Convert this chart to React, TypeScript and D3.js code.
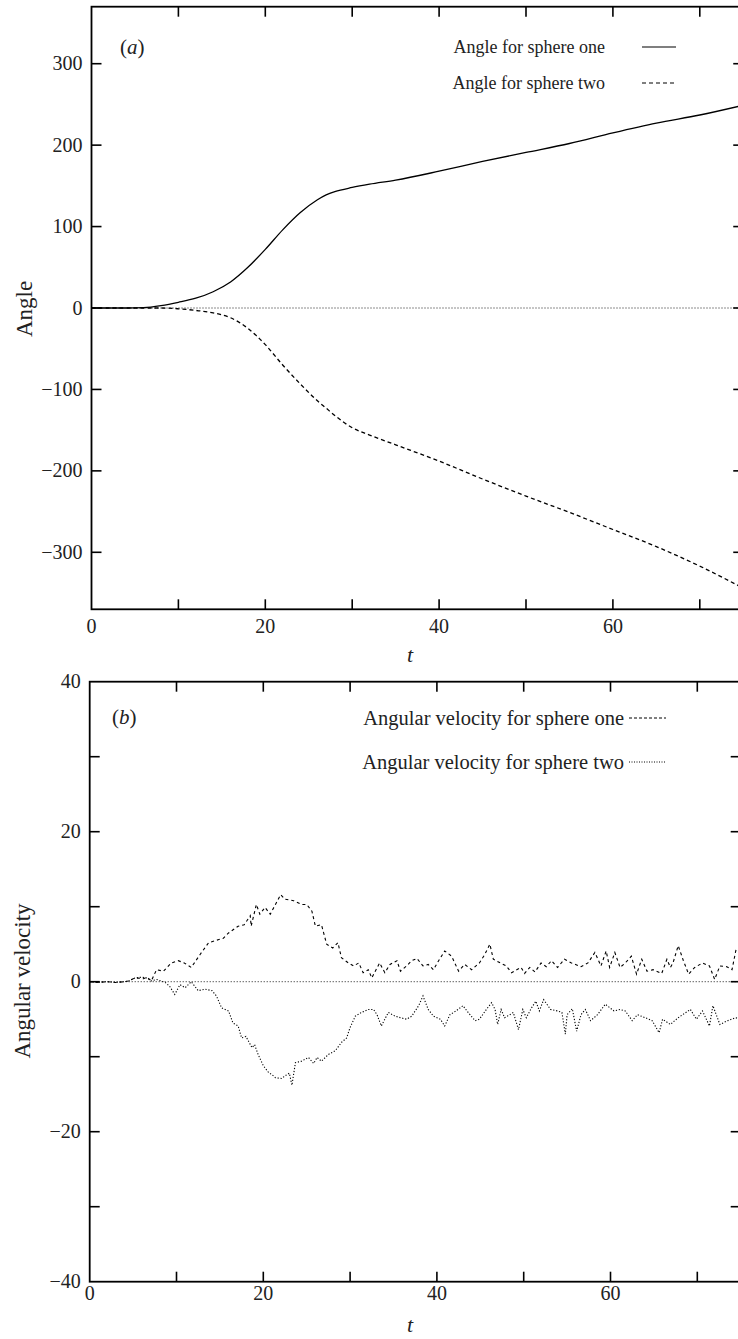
import React from "react";
import * as d3 from "d3";

// ---------- Data ----------
const angleT = [0, 4, 6, 8, 10, 12, 14, 16, 18, 20, 22, 24, 26, 27, 28, 30, 32, 35, 40, 45, 50, 55, 60, 65, 70, 75];
const angleOne = [0, 0, 0.5, 3, 7, 12, 20, 32, 50, 72, 96, 117, 133, 139, 143, 148, 152, 157, 168, 180, 191, 202, 215, 227, 237, 249];
const angleTwo = [0, 0, 0, 0, -1, -3, -6, -12, -25, -45, -70, -93, -114, -123, -132, -147, -156, -168, -188, -210, -231, -251, -272, -293, -317, -344];

const velOneT = [0, 1, 2, 3, 4, 4.5, 5.0, 5.6, 6.2, 6.6, 7.1, 7.7, 8.5, 9.4, 10.2, 10.9, 11.7, 12.7, 13.7, 14.8, 15.4, 16.0, 17.1, 17.8, 18.5, 18.6, 19.2, 19.6, 20.2, 20.8, 21.4, 22.0, 22.5, 23.5, 24.4, 25.0, 25.6, 26.0, 26.7, 27.3, 28.0, 28.6, 29.0, 29.8, 30.4, 31.0, 31.5, 32.1, 32.5, 32.9, 33.4, 34.0, 34.6, 35.4, 35.8, 36.5, 37.1, 37.7, 38.4, 39.0, 39.6, 40.2, 40.9, 41.7, 42.5, 43.2, 44.0, 44.9, 45.5, 46.1, 46.5, 47.3, 48.0, 48.6, 49.2, 49.7, 50.1, 50.7, 51.3, 52.0, 52.6, 53.2, 53.9, 54.7, 55.5, 56.6, 57.4, 58.2, 58.9, 59.5, 59.9, 60.5, 61.1, 61.7, 62.4, 63.0, 63.6, 64.2, 64.9, 65.9, 66.5, 66.9, 67.2, 67.8, 68.4, 69.0, 69.7, 70.6, 71.4, 72.0, 72.6, 73.4, 74.0, 74.5];
const velOne = [0, -0.1, 0, -0.1, 0, 0.1, 0.4, 0.5, 0.4, 0.6, 0.1, 1.6, 1.4, 2.5, 2.8, 2.5, 1.9, 3.6, 5.2, 5.6, 5.8, 6.5, 7.4, 7.6, 8.8, 7.4, 10.3, 9.0, 9.9, 9.0, 10.3, 11.6, 11.0, 10.8, 10.3, 10.3, 9.4, 7.4, 7.6, 5.0, 4.5, 5.2, 3.2, 2.5, 2.1, 2.5, 1.2, 1.6, 0.5, 1.4, 2.5, 1.2, 2.3, 2.8, 1.4, 2.1, 2.8, 3.1, 2.1, 2.3, 1.6, 2.8, 4.1, 3.4, 1.4, 2.3, 1.6, 2.5, 3.6, 5.0, 3.0, 2.5, 2.1, 1.2, 1.6, 1.9, 1.1, 1.9, 1.3, 2.5, 2.0, 2.8, 1.9, 3.0, 2.5, 2.0, 2.5, 3.9, 2.1, 4.1, 1.9, 3.9, 1.9, 2.5, 3.4, 1.0, 3.0, 1.4, 1.6, 1.1, 3.0, 1.9, 2.5, 4.8, 2.8, 1.0, 1.9, 2.5, 2.1, 0.3, 2.1, 2.0, 1.6, 4.5];

const velTwoT = [0, 1, 2, 3, 4, 4.5, 5.2, 6.0, 6.6, 7.1, 7.7, 8.7, 9.2, 9.8, 10.4, 11.0, 11.7, 12.5, 13.3, 14.1, 14.6, 15.2, 16.0, 16.5, 17.1, 17.5, 18.0, 18.7, 19.0, 19.4, 20.0, 20.6, 21.0, 21.4, 22.1, 22.7, 23.0, 23.3, 23.7, 24.4, 25.2, 25.8, 26.2, 26.7, 27.5, 28.3, 29.0, 29.6, 30.0, 30.6, 31.3, 32.1, 32.7, 33.1, 33.6, 34.4, 35.2, 35.8, 36.5, 37.1, 37.9, 38.4, 39.0, 39.6, 40.4, 40.9, 41.5, 42.2, 43.0, 43.6, 44.4, 44.9, 45.7, 46.3, 46.7, 47.0, 47.4, 47.8, 48.4, 48.8, 49.4, 49.9, 50.3, 50.9, 51.4, 51.8, 52.3, 53.1, 53.9, 54.4, 54.8, 55.0, 55.6, 56.1, 56.6, 57.1, 57.7, 58.5, 59.4, 60.4, 61.1, 61.7, 62.5, 63.1, 64.0, 64.8, 65.6, 66.0, 66.9, 67.8, 69.2, 69.9, 70.6, 71.4, 71.8, 72.6, 73.5, 74.4, 75];
const velTwo = [0, -0.1, 0, -0.1, 0, 0.1, 0.5, 0.6, 0.5, 0.1, 0.3, -0.1, -0.6, -1.7, -0.4, -0.8, 0, -1.2, -1.0, -1.2, -1.9, -3.5, -3.9, -5.5, -5.9, -7.5, -7.3, -8.8, -8.4, -9.7, -11.2, -12.1, -12.4, -12.8, -12.9, -12.4, -12.2, -13.8, -10.8, -10.6, -10.1, -10.9, -10.1, -10.6, -9.7, -9.2, -8.1, -7.5, -6.1, -4.6, -4.1, -3.7, -3.7, -4.4, -5.9, -4.1, -4.6, -4.8, -5.0, -4.6, -3.2, -1.9, -3.7, -4.6, -5.0, -5.9, -4.4, -3.9, -3.2, -4.1, -5.2, -5.0, -3.7, -2.8, -3.7, -5.7, -3.7, -4.8, -4.4, -4.1, -6.4, -3.7, -4.8, -3.5, -2.6, -3.9, -2.4, -3.7, -3.9, -4.1, -7.0, -4.4, -3.6, -6.6, -4.4, -3.7, -5.2, -4.4, -3.0, -3.9, -3.7, -3.9, -5.2, -4.4, -4.8, -5.2, -6.8, -5.0, -5.7, -4.8, -3.7, -5.0, -3.9, -5.9, -3.2, -5.7, -5.2, -4.8, -5.0];

const xTicks = [0, 10, 20, 30, 40, 50, 60, 70];
const xTickLabels = [0, 20, 40, 60];
const angleTicks = [-300, -200, -100, 0, 100, 200, 300];
const velTicks = [-40, -30, -20, -10, 0, 10, 20, 30, 40];
const velTickLabels = [-40, -20, 0, 20, 40];

const FONT = "'Liberation Serif', 'Times New Roman', 'DejaVu Serif', serif";

function fmt(v: number) {
  return v < 0 ? "\u2212" + Math.abs(v) : String(v);
}

type PanelProps = {
  x: d3.ScaleLinear<number, number>;
  y: d3.ScaleLinear<number, number>;
  yTicks: number[];
  yLabels: number[];
  xLabelDy: number;
  children?: React.ReactNode;
};

function Frame({ x, y, yTicks, yLabels, xLabelDy, children }: PanelProps) {
  const [x0, x1] = x.range();
  const [yb, yt] = y.range();
  const tl = 10;
  return (
    <g>
      {children}
      <rect x={x0} y={yt} width={x1 - x0} height={yb - yt} fill="none" stroke="#000" strokeWidth={1.8} />
      {xTicks.filter((t) => t > 0).map((t) => (
        <g key={"xt" + t}>
          <line x1={x(t)} x2={x(t)} y1={yb} y2={yb - tl} stroke="#000" strokeWidth={1.6} />
          <line x1={x(t)} x2={x(t)} y1={yt} y2={yt + tl} stroke="#000" strokeWidth={1.6} />
        </g>
      ))}
      {yTicks.filter((v) => y(v) > yt + 1 && y(v) < yb - 1).map((v) => (
        <g key={"yt" + v}>
          <line x1={x0} x2={x0 + tl} y1={y(v)} y2={y(v)} stroke="#000" strokeWidth={1.6} />
          <line x1={x1} x2={x1 - tl} y1={y(v)} y2={y(v)} stroke="#000" strokeWidth={1.6} />
        </g>
      ))}
      {xTickLabels.map((t) => (
        <text key={"xl" + t} x={x(t)} y={yb + xLabelDy} textAnchor="middle" fontFamily={FONT} fontSize={20} fill="#222">
          {fmt(t)}
        </text>
      ))}
      {yLabels.map((v) => (
        <text key={"yl" + v} x={x0 - 9} y={y(v) + 6.5} textAnchor="end" fontFamily={FONT} fontSize={20} fill="#222">
          {fmt(v)}
        </text>
      ))}
    </g>
  );
}

export default function App() {
  const xa = d3.scaleLinear().domain([0, 75]).range([91.5, 91.5 + 75 * 8.69]);
  const ya = d3.scaleLinear().domain([-370, 370]).range([609.3, 6.7]);
  const xb = d3.scaleLinear().domain([0, 75]).range([89.7, 89.7 + 75 * 8.68]);
  const yb = d3.scaleLinear().domain([-40, 40]).range([1281.7, 681.7]);

  const lineA = (vals: number[]) =>
    d3
      .line<number>()
      .x((_, i) => xa(angleT[i]))
      .y((d) => ya(d))
      .curve(d3.curveMonotoneX)(vals) || "";

  const lineB = (ts: number[], vals: number[]) =>
    d3
      .line<number>()
      .x((_, i) => xb(ts[i]))
      .y((d) => yb(d))(vals) || "";

  return (
    <svg
      width={738}
      height={1339}
      style={{ position: "absolute", left: 0, top: 0, background: "#fff" }}
      xmlns="http://www.w3.org/2000/svg"
    >
      <defs>
        <clipPath id="ca">
          <rect x={xa(0)} y={ya(370)} width={xa(75) - xa(0)} height={ya(-370) - ya(370)} />
        </clipPath>
        <clipPath id="cb">
          <rect x={xb(0)} y={yb(40)} width={xb(75) - xb(0)} height={yb(-40) - yb(40)} />
        </clipPath>
      </defs>

      {/* Panel (a) */}
      <Frame x={xa} y={ya} yTicks={angleTicks} yLabels={angleTicks} xLabelDy={24}>
        <g clipPath="url(#ca)">
          <line x1={xa(0)} x2={xa(75)} y1={ya(0)} y2={ya(0)} stroke="#000" strokeWidth={0.9} strokeDasharray="1,2" />
          <path d={lineA(angleOne)} fill="none" stroke="#000" strokeWidth={1.3} />
          <path d={lineA(angleTwo)} fill="none" stroke="#000" strokeWidth={1.3} strokeDasharray="4,3" />
        </g>
      </Frame>
      <text x={120} y={54} fontFamily={FONT} fontSize={21} fill="#222">
        (<tspan fontStyle="italic">a</tspan>)
      </text>
      <text x={605} y={53} textAnchor="end" fontFamily={FONT} fontSize={18} fill="#222">Angle for sphere one</text>
      <line x1={642} x2={676} y1={47} y2={47} stroke="#000" strokeWidth={1.2} />
      <text x={605} y={89} textAnchor="end" fontFamily={FONT} fontSize={18} fill="#222">Angle for sphere two</text>
      <line x1={642} x2={676} y1={83} y2={83} stroke="#000" strokeWidth={1.2} strokeDasharray="4,3" />
      <text x={410} y={662} textAnchor="middle" fontFamily={FONT} fontSize={22} fontStyle="italic" fill="#222">t</text>
      <text transform="translate(32,309) rotate(-90)" textAnchor="middle" fontFamily={FONT} fontSize={23} fill="#222">Angle</text>

      {/* Panel (b) */}
      <Frame x={xb} y={yb} yTicks={velTicks} yLabels={velTickLabels} xLabelDy={18}>
        <g clipPath="url(#cb)">
          <line x1={xb(0)} x2={xb(75)} y1={yb(0)} y2={yb(0)} stroke="#000" strokeWidth={0.9} strokeDasharray="1,2" />
          <path d={lineB(velOneT, velOne)} fill="none" stroke="#000" strokeWidth={1.1} strokeDasharray="3,3" />
          <path d={lineB(velTwoT, velTwo)} fill="none" stroke="#000" strokeWidth={1.1} strokeDasharray="1.2,1.8" />
        </g>
      </Frame>
      <text x={112} y={724} fontFamily={FONT} fontSize={21} fill="#222">
        (<tspan fontStyle="italic">b</tspan>)
      </text>
      <text x={624} y={725} textAnchor="end" fontFamily={FONT} fontSize={20.5} fill="#222">Angular velocity for sphere one</text>
      <line x1={629} x2={666} y1={718} y2={718} stroke="#000" strokeWidth={1} strokeDasharray="3,2" />
      <text x={624} y={769} textAnchor="end" fontFamily={FONT} fontSize={20.5} fill="#222">Angular velocity for sphere two</text>
      <line x1={629} x2={666} y1={762} y2={762} stroke="#000" strokeWidth={1} strokeDasharray="1,1.5" />
      <text x={410} y={1332} textAnchor="middle" fontFamily={FONT} fontSize={22} fontStyle="italic" fill="#222">t</text>
      <text transform="translate(30,981) rotate(-90)" textAnchor="middle" fontFamily={FONT} fontSize={23} fill="#222">Angular velocity</text>
    </svg>
  );
}
